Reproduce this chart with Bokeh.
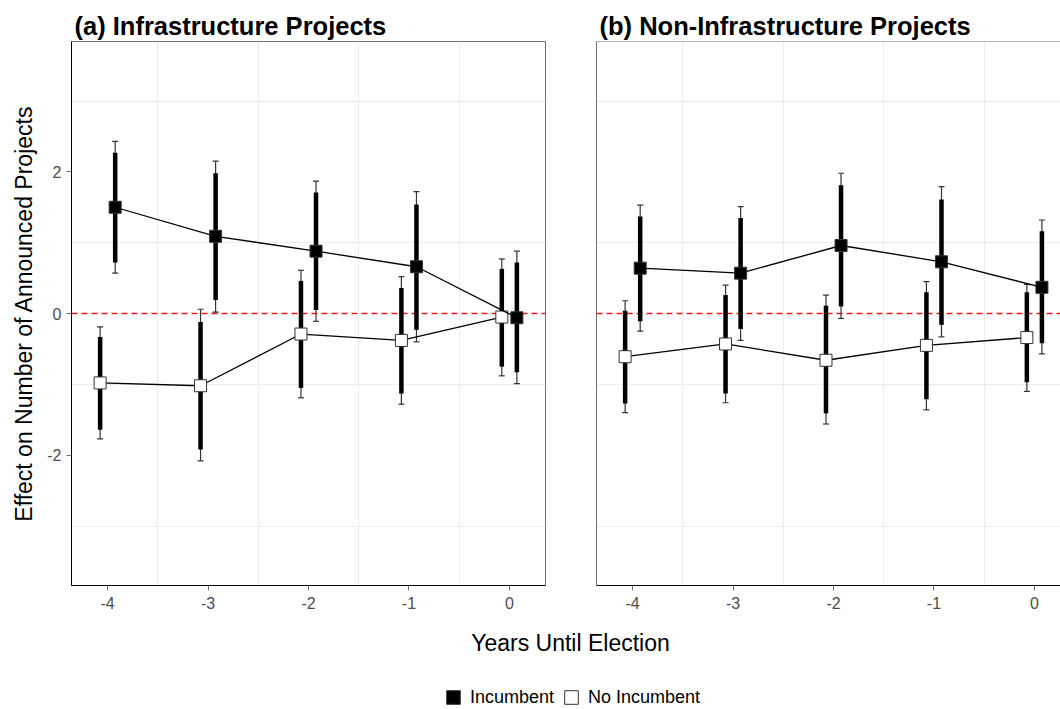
import numpy as np
from bokeh.plotting import figure
from bokeh.layouts import column, row
from bokeh.models import (ColumnDataSource, Range1d, Span, Whisker, TeeHead, FixedTicker,
                          Legend, LegendItem, Label)
from bokeh.transform import dodge
from bokeh.embed import file_html
from bokeh.resources import INLINE

# ---------------- data ----------------
years = [-4, -3, -2, -1, 0]
x_ticks = [-4, -3, -2, -1, 0]
y_ticks = [-2, 0, 2]
panel_titles = ["(a) Infrastructure Projects", "(b) Non-Infrastructure Projects"]
series_names = ["Incumbent", "No Incumbent"]

# Panel (a) Infrastructure, Incumbent
est_a_inc = [1.50, 1.09, 0.88, 0.66, -0.06]
lo90_a_inc = [0.72, 0.19, 0.05, -0.23, -0.83]
hi90_a_inc = [2.27, 1.98, 1.71, 1.54, 0.72]
lo95_a_inc = [0.57, 0.02, -0.11, -0.40, -0.99]
hi95_a_inc = [2.43, 2.15, 1.87, 1.72, 0.88]
# Panel (a) Infrastructure, No Incumbent
est_a_no = [-0.98, -1.02, -0.29, -0.38, -0.05]
lo90_a_no = [-1.64, -1.92, -1.05, -1.13, -0.75]
hi90_a_no = [-0.33, -0.12, 0.46, 0.36, 0.63]
lo95_a_no = [-1.77, -2.08, -1.19, -1.28, -0.88]
hi95_a_no = [-0.19, 0.06, 0.61, 0.52, 0.77]
# Panel (b) Non-Infrastructure, Incumbent
est_b_inc = [0.64, 0.57, 0.96, 0.73, 0.37]
lo90_b_inc = [-0.11, -0.22, 0.10, -0.16, -0.42]
hi90_b_inc = [1.37, 1.35, 1.81, 1.61, 1.16]
lo95_b_inc = [-0.25, -0.38, -0.07, -0.33, -0.57]
hi95_b_inc = [1.53, 1.51, 1.98, 1.79, 1.32]
# Panel (b) Non-Infrastructure, No Incumbent
est_b_no = [-0.61, -0.43, -0.66, -0.45, -0.34]
lo90_b_no = [-1.27, -1.13, -1.41, -1.21, -0.97]
hi90_b_no = [0.04, 0.26, 0.11, 0.30, 0.30]
lo95_b_no = [-1.40, -1.26, -1.56, -1.36, -1.10]
hi95_b_no = [0.18, 0.40, 0.26, 0.45, 0.41]

# ---------------- style ----------------
FONT = "Liberation Sans"
DODGE = 0.075
GRAY = "#707070"
GRID = "#ededed"
TICKTXT = "#4d4d4d"
RED = "#f01c1c"
Y_RANGE = (-3.84, 3.84)


def make_src(est, lo90, hi90, lo95, hi95):
    return ColumnDataSource(dict(x=years, est=est, lo90=lo90, hi90=hi90, lo95=lo95, hi95=hi95))


def draw_series(p, src, offset, fill):
    xs = dodge("x", offset)
    w = Whisker(base=xs, lower="lo95", upper="hi95", source=src, dimension="height",
                line_color="#333333", line_width=1.2, level="underlay",
                upper_head=TeeHead(size=6, line_color="#333333", line_width=1.2),
                lower_head=TeeHead(size=6, line_color="#333333", line_width=1.2))
    p.add_layout(w)
    p.segment(x0=xs, y0="lo90", x1=xs, y1="hi90", source=src, line_color="black", line_width=4.5)
    p.line(x=xs, y="est", source=src, line_color="black", line_width=1.3)
    p.scatter(x=xs, y="est", source=src, marker="square", size=12,
              fill_color=fill, line_color="#333333", line_width=1)


def make_panel(title, x_end, width, mb_left, mb_right, show_y):
    p = figure(width=width, height=625, output_backend="svg", toolbar_location=None,
               x_range=Range1d(-4.36, x_end), y_range=Range1d(*Y_RANGE),
               min_border_top=41, min_border_bottom=40,
               min_border_left=mb_left, min_border_right=mb_right)
    p.background_fill_color = "white"
    p.border_fill_color = "white"
    p.title.text = title
    p.title.text_font = FONT
    p.title.text_font_size = "25.5px"
    p.title.text_font_style = "bold"
    p.title.text_color = "black"
    p.title.align = "left"
    p.title.offset = 3
    p.title.standoff = 3

    p.xgrid.ticker = FixedTicker(ticks=[-3.5, -2.5, -1.5, -0.5])
    p.ygrid.ticker = FixedTicker(ticks=[-3, -1, 1, 3])
    for g in (p.xgrid, p.ygrid):
        g.grid_line_color = GRID
        g.grid_line_width = 1

    p.xaxis.ticker = FixedTicker(ticks=x_ticks)
    p.xaxis.major_label_overrides = {t: str(t) for t in x_ticks}
    p.xaxis.major_label_text_font = FONT
    p.xaxis.major_label_text_font_size = "16px"
    p.xaxis.major_label_text_color = TICKTXT
    p.xaxis.major_tick_line_color = GRAY
    p.xaxis.major_tick_out = 5
    p.xaxis.major_tick_in = 0
    p.xaxis.minor_tick_line_color = None
    p.xaxis.axis_line_color = "black"
    p.xaxis.major_label_standoff = 6

    p.yaxis.minor_tick_line_color = None
    if show_y:
        p.yaxis.ticker = FixedTicker(ticks=y_ticks)
        p.yaxis.major_label_overrides = {t: str(t) for t in y_ticks}
        p.yaxis.major_label_text_font = FONT
        p.yaxis.major_label_text_font_size = "16px"
        p.yaxis.major_label_text_color = TICKTXT
        p.yaxis.major_tick_line_color = GRAY
        p.yaxis.major_tick_out = 5
        p.yaxis.major_tick_in = 0
        p.yaxis.axis_line_color = "black"
        p.yaxis.major_label_standoff = 5
        p.yaxis.axis_label = "Effect on Number of Announced Projects"
        p.yaxis.axis_label_text_font = FONT
        p.yaxis.axis_label_text_font_size = "23px"
        p.yaxis.axis_label_text_font_style = "normal"
        p.yaxis.axis_label_text_color = "black"
        p.yaxis.axis_label_standoff = 7
        p.outline_line_color = GRAY
    else:
        p.yaxis.ticker = FixedTicker(ticks=[])
        p.yaxis.major_tick_line_color = None
        p.yaxis.axis_line_color = GRAY
        p.yaxis.major_label_standoff = 0
        p.outline_line_color = None
        p.add_layout(Span(location=Y_RANGE[1], dimension="width", line_color=GRAY, line_width=1))

    p.add_layout(Span(location=0, dimension="width", line_color=RED, line_width=1.3,
                      line_dash="6 4", level="underlay"))
    return p


pa = make_panel(panel_titles[0], 0.36, 570, 71, 25, True)
pb = make_panel(panel_titles[1], 0.26, 490, 26, 0, False)

draw_series(pa, make_src(est_a_no, lo90_a_no, hi90_a_no, lo95_a_no, hi95_a_no), -DODGE, "white")
draw_series(pa, make_src(est_a_inc, lo90_a_inc, hi90_a_inc, lo95_a_inc, hi95_a_inc), DODGE, "black")
draw_series(pb, make_src(est_b_no, lo90_b_no, hi90_b_no, lo95_b_no, hi95_b_no), -DODGE, "white")
draw_series(pb, make_src(est_b_inc, lo90_b_inc, hi90_b_inc, lo95_b_inc, hi95_b_inc), DODGE, "black")

# bottom strip: shared x-axis title and legend
pl = figure(width=1060, height=84, output_backend="svg", toolbar_location=None,
            x_axis_type=None, y_axis_type=None, x_range=Range1d(0, 1), y_range=Range1d(0, 1),
            min_border=0)
pl.outline_line_color = None
pl.xgrid.visible = False
pl.ygrid.visible = False
pl.add_layout(Label(x=570, y=67, x_units="screen", y_units="screen", text="Years Until Election",
                    text_align="center", text_baseline="middle", text_font=FONT,
                    text_font_size="23px", text_color="black"))
nan = float("nan")
r_inc = pl.scatter(x=[nan], y=[nan], marker="square", fill_color="black", line_color="#333333")
r_no = pl.scatter(x=[nan], y=[nan], marker="square", fill_color="white", line_color="#333333")
leg = Legend(items=[LegendItem(label=series_names[0], renderers=[r_inc]),
                    LegendItem(label=series_names[1], renderers=[r_no])],
             orientation="horizontal", location=(436, -5),
             glyph_width=34, glyph_height=34, label_standoff=0, spacing=0,
             padding=0, margin=0, border_line_color=None, background_fill_alpha=0,
             label_text_font=FONT, label_text_font_size="18px", label_text_color="black")
pl.add_layout(leg)

layout = column(row(pa, pb), pl)
open("out.html", "w").write(file_html(layout, INLINE))
